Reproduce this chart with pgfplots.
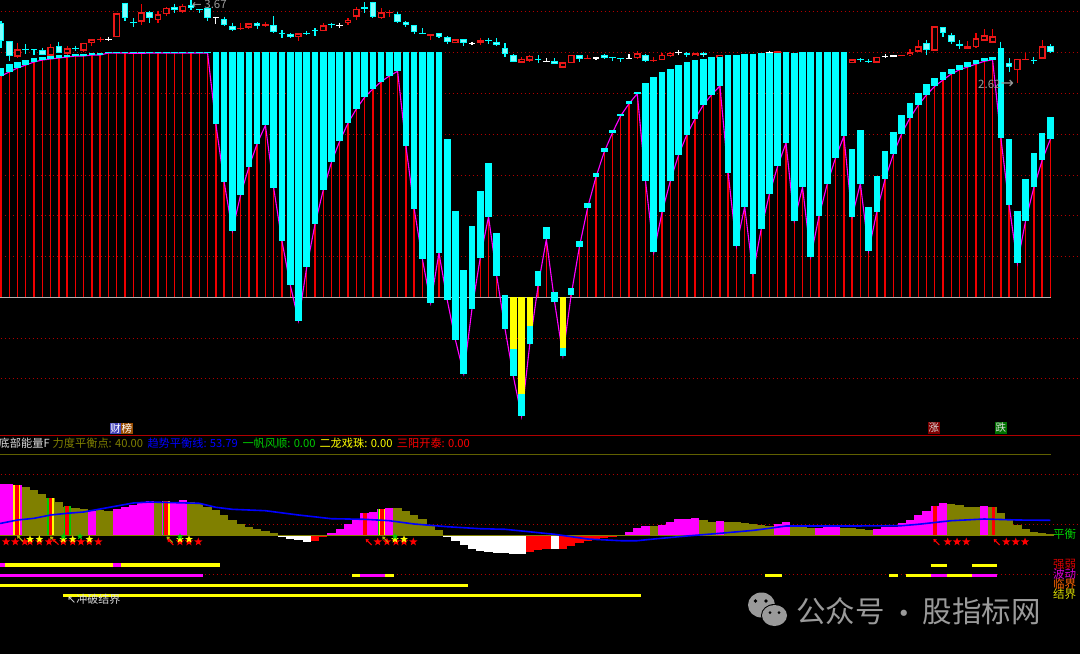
\documentclass[border=0pt]{standalone}
\usepackage{fontspec}
\usepackage{pgfplots}
\usepackage{pgfplotstable}
\pgfplotsset{compat=1.18}
\usetikzlibrary{shapes.geometric}
\setmainfont{Noto Sans CJK SC}
\newfontfamily\djf{DejaVu Sans}

\definecolor{cyn}{HTML}{00FFFF}
\definecolor{cynin}{HTML}{80FFFF}
\definecolor{red1}{HTML}{F00000}
\definecolor{redc}{HTML}{E81818}
\definecolor{gridc}{HTML}{B00000}
\definecolor{oliv}{HTML}{808000}
\definecolor{mag}{HTML}{FF00FF}
\definecolor{yel}{HTML}{FFFF00}
\definecolor{blu}{HTML}{0000FF}
\definecolor{grn}{HTML}{00CC00}
\definecolor{wm}{HTML}{9A9A9A}
\definecolor{txt}{HTML}{DDDDDD}

% x = bar number (pixel = 1 + 8.263*i), y = pixel row of the screenshot

% body of each bar in the upper panel; the magenta close line runs along bot
\pgfplotstableread{
i top bot
0 68 76
1 64 72
2 62 68
3 60 65
4 58 62
5 57 60
6 56 59
7 55 58
8 55 57
9 54 56
10 54 56
11 53 55
12 53 55
13 51.8 53
14 51.8 53
15 51.8 53
16 51.6 53.4
17 51.6 53.4
18 51.8 53
19 51.8 53
20 51.8 53
21 51.8 53
22 51.8 53
23 51.8 53
24 51.8 53
25 51.8 53
26 52 124.3
27 52 181.7
28 52 230.7
29 52 194.7
30 52 167
31 52 143.7
32 52 125.3
33 52 188
34 52 241
35 52 284.7
36 52 320.7
37 52 267
38 52 224.3
39 52 190
40 52 162
41 52 141
42 52 123
43 52 109
44 52 97.3
45 52 89
46 52 81.7
47 52 76
48 52 71.3
49 52 145.7
50 52 208.7
51 52 259.3
52 52 303
53 52 253
54 139 300
55 210.7 340.3
56 270 373.7
57 226.3 308.7
58 191 257.7
59 163.3 216.7
60 233 276.3
61 295 329
62 349 376.3
63 394 416.3
64 325.7 343.7
65 271 285.7
66 227.3 239.3
67 292.3 302.3
68 347.7 355.7
69 288.3 295
70 241.3 246.7
71 203 207.5
72 173.3 177
73 148 152
74 130 132.7
75 114 115.7
76 101 103.7
77 92 93.7
78 83.3 181
79 77 252.3
80 72.3 212.3
81 68.7 181
82 65 155
83 62.3 134.7
84 60.3 118.7
85 58.7 105
86 57.3 94.7
87 56.7 86
88 55 173.3
89 55 246
90 53.7 206.7
91 53.7 273.7
92 53 229
93 53 193.7
94 53 166
95 52 143
96 53 220.7
97 52 187.3
98 52 256.7
99 52 216
100 52 183.7
101 52 157.7
102 52 136.3
103 149.3 216.7
104 130 183.5
105 207 250.7
106 176 211.5
107 151.3 178.8
108 131.7 154
109 115 133.7
110 103 118
111 92.7 105.3
112 84.3 95
113 78 86.3
114 72.3 80
115 68.7 74
116 65 69.7
117 62 67
118 60 64
119 58.3 61.3
120 57.3 59.7
121 48.3 138
122 139.3 205
123 210.7 263.3
124 179.2 220.7
125 153.3 187.3
126 132.7 160.3
127 117 139
}\bars

\pgfplotstableread{
i a b
62 297 349
63 297 394
64 297 325.7
68 297 347.7
}\yelbars

% candles above the panel: hi lo bodytop bodybottom
\pgfplotstableread{
i hi lo t b
2 42.7 58.3 49.3 56.7
6 44 56.7 46.7 55.7
8 45.7 55 48.3 53.7
10 42.7 52.3 42.7 50.7
11 39.3 45.7 39.3 43.3
12 37.3 41.7 39.3 40.3
14 13.3 37.3 13.3 37.3
17 4 25 12.3 21.7
19 10.7 22.7 14.3 20
20 6.7 15.7 7.7 14.3
22 4 13.3 5.7 11.7
29 22.7 30 28.3 29.3
30 22.7 29 23.3 27.7
32 21.7 26.7 24.3 26.3
36 33.3 40.7 33.3 37.3
39 23.3 31.3 25.3 31.3
42 18.3 25 19.7 22.7
43 6.7 20 8.7 16.7
46 8.3 19 12.3 18.3
47 10 16.7 12.3 13.3
52 34 40 34 35.7
55 39.3 42.7 39.3 42.7
58 37.7 45 40 42.7
63 56.7 63.3 58.7 62.7
64 55 61.7 55.7 60.7
68 62.3 67.7 62.3 67.7
69 55 63.3 55 63.3
71 55 59.3 58 59
77 51 59 53.3 58.3
79 57.3 62 59.7 60.7
80 53 60 55 60
81 51.7 56.7 53 56.3
84 53.3 56.3 53.3 56.3
87 55 60 55 58
94 50.5 54 51 53.5
103 59.3 62.7 59.3 62.7
106 56.7 62.7 56.7 62.7
109 55 56.3 55 56.3
110 49.3 55.7 52.3 55.3
111 40 52 46.3 51.7
113 26.3 50.7 26.3 50.7
117 41 49 46.3 48.7
118 33.3 48 38.3 47
119 29 40.7 35.3 40.7
120 29 42.7 36.3 42.7
123 58.7 82.7 58.7 70.3
124 52.7 60 58.7 59.7
126 40 59 46.3 58.7
}\candR

\pgfplotstableread{
i hi lo t b
0 20.7 48.3 23.3 40.7
1 41.3 60.7 41.3 55.7
3 44.3 54 48.7 50
4 49 55 49 50
5 47.7 55 50.3 55
7 41.7 53.3 45.7 52.7
9 45.7 50.7 47.7 49
15 2.7 20.7 2.7 18.3
16 18.3 26.7 21.7 22.7
18 11 22.7 12 18.3
21 3.7 13.3 7 10
23 0 10 5.3 7.7
24 9 13.3 9 9.7
25 6.7 21 7.7 18.3
27 16.7 26 19.3 25
28 22.7 30.7 26 29.7
31 22.3 29 22.7 25.7
33 16 33.3 25 32.3
34 30 37.7 32.7 33.7
35 33.3 37.7 33.7 36.7
37 30.7 34.7 32.7 34
38 28.3 36 29.7 31
40 22.7 27.7 23.7 24.3
44 2 12.7 7.3 8.7
45 1.7 17.7 2 16.7
48 11.7 23.3 14 22
49 21 26.7 21.7 25
50 25 34.3 25.3 32.3
51 28.3 34.3 32.7 34
53 33.3 37.7 33.3 36.7
54 36 43.7 37.3 41.7
56 39 46 39.3 43.3
59 37.7 43.7 40 40.7
60 38.3 45.7 41.7 45
61 43.3 56.7 47.7 54.3
62 54 62.3 55 61.7
65 55 62.7 58.7 59.3
67 58.3 64 60.7 63.7
70 55 61.7 55.3 59.3
73 54 59.3 55 58.3
74 56.7 60.7 57.3 58
75 58.3 62.3 58.3 59.3
78 54.3 62 55 61
83 52.3 57.3 53.3 55.3
85 51.7 57.3 52.7 55
104 58 61.7 59.3 60
105 59.3 63.3 60.7 62
112 40 55 43 50
114 27.3 37.3 27.3 33.3
115 32.7 44 35.3 41.7
116 40 49 43.7 45.7
121 41.7 50 48.3 52
122 58.3 72.3 62.7 67
125 57.3 64 60 61.3
127 44.3 52.7 45.7 51.7
}\candC

\pgfplotstableread{
i hi lo t b
13 36.7 40.7 39 39.7
26 16.7 24 17.3 18
41 22.7 27.7 25 26.3
57 41.7 45 43.3 44.3
66 58.3 61.7 60.7 61.3
72 56.7 60 57.3 58.7
76 54 59 58 58.7
82 50 55 52 52.7
93 50.5 54 52 52.7
107 54 58 56 57.3
108 55 57.3 55.3 56.7
}\candW

% lower panel, tops of the columns down to the zero row
\pgfplotstableread{
i a
0 484
1 484
2 485.3
11 510.7
14 508.7
15 506.7
16 505.3
17 503
18 501.3
20 501
21 501.7
22 500
40 532.7
41 529
42 524
43 520
44 513.3
45 511.7
46 509.3
47 508.3
76 532.3
77 528
78 526
80 525
81 522
82 519.3
83 519.3
84 518.3
87 521
94 524
95 522.3
99 528.3
100 526.7
101 526.7
106 528.7
107 526.7
108 526.7
109 523.3
110 520
111 515
112 511
113 505.7
114 503.3
119 506.3
}\hMag

\pgfplotstableread{
i a
3 487.3
4 490.3
5 494.3
6 498.3
7 502
8 506.7
9 508.3
10 509.3
12 510
13 510.7
19 502.7
23 501.7
24 503.7
25 506.7
26 510
27 515
28 520.3
29 524
30 527
31 529
32 530.7
33 532.7
48 508.3
49 511
50 515.3
51 519.3
52 525
53 530
79 526
85 519.7
86 522
88 522.3
89 522.3
90 523.3
91 524
92 525.3
93 526
96 525
97 526.7
98 528.3
102 527.7
103 528.3
104 529.3
105 530
115 503.7
116 505.3
117 507
118 507
120 507.3
121 513.3
122 520
123 525
124 529.3
125 532.3
126 533.3
127 533.7
}\hOli

\pgfplotstableread{
i b
34 537
35 538.7
36 540.3
37 541.7
54 537
55 540.7
56 545.3
57 549.3
58 550.7
59 551.7
60 552.7
61 553.3
62 553.7
63 553.7
67 549.3
}\hWht

\pgfplotstableread{
i b
38 541
39 536.7
64 552
65 550
66 549.3
68 549.3
69 546
70 543.3
71 540.7
72 539.3
73 538
74 536.7
75 535.8
}\hRed

% signal stripes in the lower panel
\pgfplotstableread{
i a
1.9 485
6.01 498.3
20 501
46.08 509.3
}\stYel
\pgfplotstableread{
i a
8.02 506.3
}\stGrn
\pgfplotstableread{
i a
5.71 498.3
19.73 501
45.7 509.3
}\stGrnE
\pgfplotstableread{
i a
1.9 485
6.01 498.3
8.02 506.3
20 501
44.05 513.3
46.08 509.3
113 505.7
120.1 507.3
}\stRed

% bar from y=#4, length #5, width #1, colour #2, data #3
\newcommand{\seg}[5]{\addplot[forget plot,draw=none,
  error bars/.cd,y dir=plus,y explicit,error mark=none,
  error bar style={draw=#2,line width=#1}]
  table[x=i,y expr={#4},y error expr={#5}] {#3};}

% text at pixel x,y of the screenshot
\newcommand{\lab}[5][11.2]{\node[anchor=west,inner sep=0pt,text=#4,
  font=\fontsize{#1}{#1}\selectfont,xshift=#2pt,yshift=-#3pt]
  at (axis cs:-0.121,0) {#5};}
\newcommand{\ov}[5]{\node[ellipse,fill=#5,inner sep=0pt,minimum width=#3pt,minimum height=#4pt,
  xshift=#1pt,yshift=-#2pt] at (axis cs:-0.121,0) {};}

\pgfdeclareplotmark{fstar}{%
  \pgfpathmoveto{\pgfpointpolar{90}{\pgfplotmarksize}}%
  \pgfpathlineto{\pgfpointpolar{126}{.42\pgfplotmarksize}}%
  \pgfpathlineto{\pgfpointpolar{162}{\pgfplotmarksize}}%
  \pgfpathlineto{\pgfpointpolar{198}{.42\pgfplotmarksize}}%
  \pgfpathlineto{\pgfpointpolar{234}{\pgfplotmarksize}}%
  \pgfpathlineto{\pgfpointpolar{270}{.42\pgfplotmarksize}}%
  \pgfpathlineto{\pgfpointpolar{306}{\pgfplotmarksize}}%
  \pgfpathlineto{\pgfpointpolar{342}{.42\pgfplotmarksize}}%
  \pgfpathlineto{\pgfpointpolar{18}{\pgfplotmarksize}}%
  \pgfpathlineto{\pgfpointpolar{54}{.42\pgfplotmarksize}}%
  \pgfpathclose\pgfusepathqfill}
\pgfdeclareplotmark{nwarr}{%
  \pgfsetlinewidth{1pt}%
  \pgfpathmoveto{\pgfqpoint{3pt}{-3pt}}%
  \pgfpathlineto{\pgfqpoint{-2pt}{2pt}}%
  \pgfusepathqstroke
  \pgfpathmoveto{\pgfqpoint{-3pt}{3pt}}%
  \pgfpathlineto{\pgfqpoint{.5pt}{2.5pt}}%
  \pgfpathlineto{\pgfqpoint{-2.5pt}{-.5pt}}%
  \pgfpathclose\pgfusepathqfill}

\begin{document}
\begin{tikzpicture}
\fill[black] (0,0) rectangle (1080pt,654pt);
\begin{axis}[
    name=ax,
    at={(0,0)},
    anchor=south west,
    width=1080pt, height=654pt,
    scale only axis,
    hide axis,
    xmin=-0.121, xmax=130.58,
    ymin=0, ymax=654,
    y dir=reverse,
    unbounded coords=jump,
]

% dotted levels
\addplot[gridc,line width=1pt,dash pattern=on 1.5pt off 2.5pt] coordinates {
  (-1,11.5)(131,11.5)(nan,nan)(-1,52.3)(131,52.3)(nan,nan)(-1,93.3)(131,93.3)(nan,nan)(-1,134)(131,134)(nan,nan)
  (-1,175)(131,175)(nan,nan)(-1,215.7)(131,215.7)(nan,nan)(-1,256.5)(131,256.5)(nan,nan)(-1,338.3)(131,338.3)(nan,nan)
  (-1,378.7)(131,378.7)(nan,nan)(-1,474.3)(131,474.3)(nan,nan)(-1,524.5)(131,524.5)(nan,nan)(-1,574.5)(131,574.5)
};

% candles
\seg{1.2pt}{red1}{\candR}{\thisrow{hi}}{\thisrow{lo}-\thisrow{hi}}
\seg{6.8pt}{redc}{\candR}{\thisrow{t}}{\thisrow{b}-\thisrow{t}}
\seg{4pt}{black}{\candR}{\thisrow{t}+1.4}{max(\thisrow{b}-\thisrow{t}-2.8,0)}
\seg{1.2pt}{cyn}{\candC}{\thisrow{hi}}{\thisrow{lo}-\thisrow{hi}}
\seg{6.6pt}{cyn}{\candC}{\thisrow{t}}{\thisrow{b}-\thisrow{t}}
\seg{4.6pt}{cynin}{\candC}{\thisrow{t}+1}{max(\thisrow{b}-\thisrow{t}-2,0)}
\seg{1.2pt}{white}{\candW}{\thisrow{hi}}{\thisrow{lo}-\thisrow{hi}}
\seg{6.6pt}{white}{\candW}{\thisrow{t}}{\thisrow{b}-\thisrow{t}}

% red stems, zero line, close line, bars
\seg{1.4pt}{red1}{\bars}{\thisrow{bot}}{297-\thisrow{bot}}
\addplot[color=white!70!black,line width=1pt] coordinates {(-1,297.3)(127.1,297.3)};
\addplot[mag,line width=1.1pt] table[x=i,y=bot] {\bars};
\seg{6.6pt}{yel}{\yelbars}{\thisrow{a}}{\thisrow{b}-\thisrow{a}}
\seg{6.6pt}{cyn}{\bars}{\thisrow{top}}{\thisrow{bot}-\thisrow{top}}

% panel separators
\addplot[gridc,line width=1pt] coordinates {(-1,435.3)(131,435.3)};
\addplot[oliv!75!black,line width=1pt] coordinates {(-1,454)(127.1,454)};

% lower panel columns
\seg{8.35pt}{mag}{\hMag}{\thisrow{a}}{535-\thisrow{a}}
\seg{8.35pt}{oliv}{\hOli}{\thisrow{a}}{535-\thisrow{a}}
\seg{8.35pt}{white}{\hWht}{535}{\thisrow{b}-535}
\seg{8.35pt}{red}{\hRed}{535}{\thisrow{b}-535}
\addplot[oliv,line width=0.8pt] coordinates {(-1,535)(127.4,535)};

% stripes
\seg{6.6pt}{yel}{\stYel}{\thisrow{a}}{535-\thisrow{a}}
\seg{6.6pt}{grn}{\stGrn}{\thisrow{a}}{535-\thisrow{a}}
\seg{1.6pt}{grn}{\stGrnE}{\thisrow{a}}{535-\thisrow{a}}
\seg{3.6pt}{red}{\stRed}{\thisrow{a}}{535-\thisrow{a}}

% balance line
\addplot[blu,line width=1.6pt] coordinates {
  (-1,524)(0,523.3)(2,520)(4,518.3)(6,515)(8,513.3)(10,512)(12,509)(14,506)(16,503)(18,502)
  (24,503.3)(26,507.3)(28,509.3)(32,510.7)(36,515)(40,518.7)(44,519.3)(47,520.7)(50,524)
  (54,526.7)(58,528.7)(61,529.3)(67,534.3)(71,539)(75,540.7)(77,540.7)(79,539)(83,536)
  (87,533.3)(91,530.4)(93,528.3)(95,526)(103,526)(109,525.7)(111,524.3)(115,520.7)
  (119,519)(123,520)(127,520.3)
};

% stars and arrows
\addplot[only marks,mark=fstar,mark size=4.3pt,mark options={fill=red,draw=none}] coordinates {
  (0.61,541.8)(1.73,541.8)(2.87,541.8)(3.51,541.8)(4.64,541.8)(5.81,541.8)
  (7.54,541.8)(8.68,541.8)(9.68,541.8)(10.69,541.8)(11.78,541.8)
  (21.66,541.8)(22.75,541.8)(23.88,541.8)
  (45.59,541.8)(46.71,541.8)(47.8,541.8)(48.77,541.8)(49.9,541.8)
  (114.57,541.8)(115.7,541.8)(116.82,541.8)(121.66,541.8)(122.8,541.8)(123.93,541.8)
};
\addplot[only marks,mark=fstar,mark size=4pt,mark options={fill=yel,draw=none}] coordinates {
  (3.51,539.3)(4.64,539.3)(7.54,539.3)(8.68,539.3)(10.69,539.3)(21.66,539.3)(22.75,539.3)
  (47.68,539.3)(48.77,539.3)
};
\addplot[only marks,mark=fstar,mark size=3.5pt,mark options={fill=grn,draw=none}] coordinates {
  (7.54,536.5)(9.56,536.5)(21.66,536.5)(47.68,536.5)
};
\addplot[only marks,mark=nwarr,mark options={draw=yel!70!black,fill=yel!70!black}] coordinates {
  (2.3,538.3)(6.3,539.5)(20.4,539.5)(46.5,539.5)
};
\addplot[only marks,mark=nwarr,mark options={draw=red,fill=red}] coordinates {
  (6.6,541.7)(20.5,542)(44.5,542)(113.2,542)(120.5,542)
};

% bottom state bars
\addplot[mag,line width=3.4pt] coordinates {(-1,565)(0.5,565)(nan,nan)(13.5,565)(14.5,565)(nan,nan)
  (-1,575.3)(24.5,575.3)(nan,nan)(43.5,575.3)(46.5,575.3)(nan,nan)(112.5,575.3)(114.5,575.3)(nan,nan)(117.5,575.3)(120.5,575.3)};
\addplot[yel,line width=3.4pt] coordinates {(0.5,565)(13.5,565)(nan,nan)(14.5,565)(26.5,565)(nan,nan)
  (112.5,565.3)(114.5,565.3)(nan,nan)(117.5,565.3)(120.5,565.3)(nan,nan)
  (42.5,575.3)(43.5,575.3)(nan,nan)(46.5,575.3)(47.5,575.3)(nan,nan)(92.5,575.3)(94.5,575.3)(nan,nan)
  (107.5,575.3)(108.5,575.3)(nan,nan)(109.5,575.3)(112.5,575.3)(nan,nan)(114.5,575.3)(117.5,575.3)(nan,nan)
  (-1,585.3)(56.5,585.3)(nan,nan)(7.5,595.7)(77.5,595.7)};

% header line of the lower panel
\lab{-1.5}{443.3}{txt}{底部能量F}
\lab{52.5}{443.3}{oliv}{力度平衡点: 40.00}
\lab{147.3}{443.3}{blu}{趋势平衡线: 53.79}
\lab{242.3}{443.3}{grn}{一帆风顺: 0.00}
\lab{319.3}{443.3}{yel}{二龙戏珠: 0.00}
\lab{396.7}{443.3}{red}{三阳开泰: 0.00}

% badges above the separator
\node[anchor=west,inner sep=0pt,fill=blue!45!gray,text=white,minimum height=11pt,minimum width=10.7pt,
  font=\fontsize{10.5}{10.5}\selectfont,xshift=110pt,yshift=-428.2pt] at (axis cs:-0.121,0) {财};
\node[anchor=west,inner sep=0pt,fill=orange!60!black,text=white,minimum height=11pt,minimum width=12pt,
  font=\fontsize{10.5}{10.5}\selectfont,xshift=120.7pt,yshift=-428.2pt] at (axis cs:-0.121,0) {榜};
\node[anchor=west,inner sep=0pt,fill=red!50!black,text=white!85!black,minimum height=11.6pt,minimum width=11.3pt,
  font=\fontsize{10.5}{10.5}\selectfont,xshift=928pt,yshift=-427.8pt] at (axis cs:-0.121,0) {涨};
\node[anchor=west,inner sep=0pt,fill=green!45!black,text=white!85!black,minimum height=11.6pt,minimum width=12pt,
  font=\fontsize{10.5}{10.5}\selectfont,xshift=994.7pt,yshift=-427.8pt] at (axis cs:-0.121,0) {跌};

% price tags
\lab[11.5]{192}{4}{wm}{{\djf ←} 3.67}
\lab[11.5]{978}{84}{wm}{2.62{\djf\fontsize{16}{16}\selectfont →}}

% side labels
\lab[11.5]{1053}{534.5}{grn}{平衡}
\lab[11.5]{1053}{564}{red!85!black}{强弱}
\lab[11.5]{1053}{574.5}{mag!85!black}{波动}
\lab[11.5]{1053}{584.5}{orange!80!red}{临界}
\lab[11.5]{1053}{594.5}{yel!85!black}{结界}

% note under the bars
\lab[11]{67}{599.5}{txt}{{\djf ↖}冲破结界}

% watermark
\ov{761.5}{605}{27}{25}{wm}
\ov{755.5}{601}{3.6}{3.6}{black}
\ov{766}{601}{3.6}{3.6}{black}
\ov{774.5}{615.5}{27}{23}{black}
\ov{774.5}{615.5}{25}{21}{wm}
\ov{770}{612.5}{3}{3}{black}
\ov{779}{612.5}{3}{3}{black}
\lab[29.5]{796}{611}{wm}{公众号}
\lab[29.5]{889}{617}{wm}{·}
\lab[29.5]{922.5}{611}{wm}{股指标网}
\end{axis}
\pgfresetboundingbox
\path[use as bounding box] (0,0) rectangle (1080pt,654pt);
\end{tikzpicture}
\end{document}
